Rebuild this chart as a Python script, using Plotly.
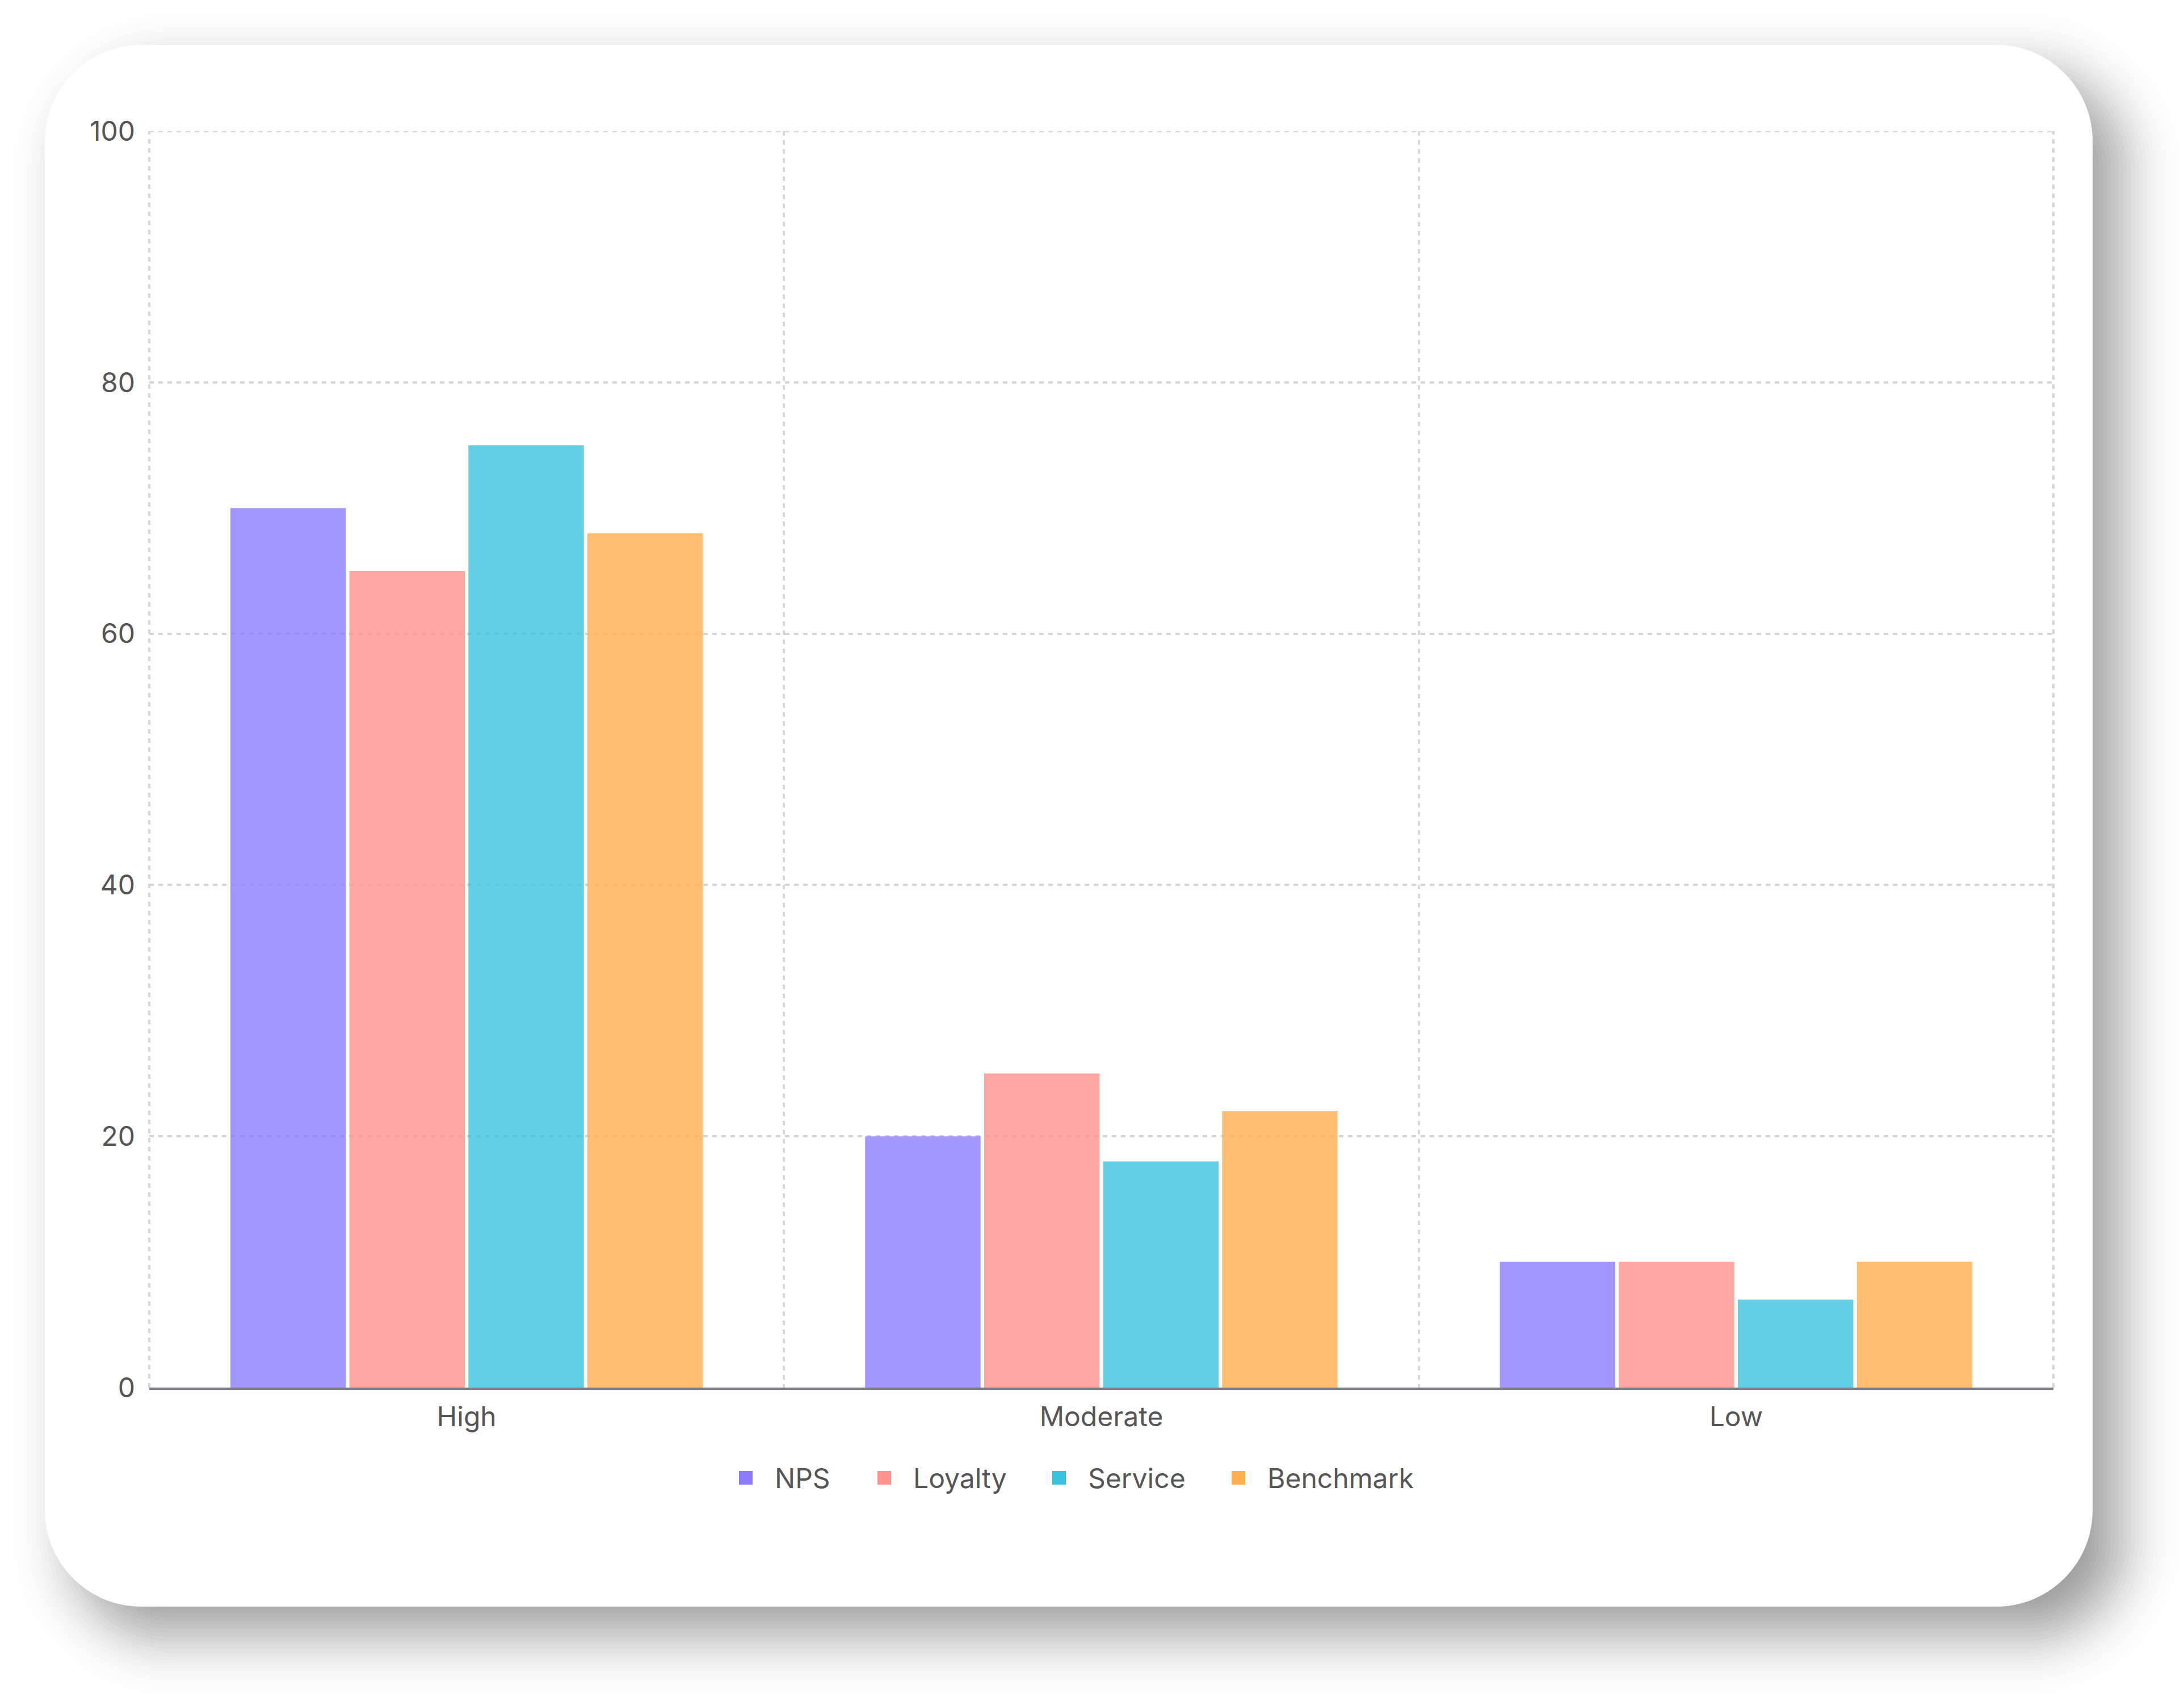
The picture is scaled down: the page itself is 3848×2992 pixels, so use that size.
import math
import plotly.graph_objects as go

# ---- data -----------------------------------------------------------------
categories = ["High", "Moderate", "Low"]
series_names = ["NPS", "Loyalty", "Service", "Benchmark"]
nps = [70, 20, 10]
loyalty = [65, 25, 10]
service = [75, 18, 7]
benchmark = [68, 22, 10]
y_ticks = [0, 20, 40, 60, 80, 100]

series_values = [nps, loyalty, service, benchmark]
series_colors = ["#8B7CFF", "#FF928C", "#3BC3DD", "#FFAF50"]

# ---- canvas geometry (pixels) ----------------------------------------------
W, H = 3848, 2992
PLOT_L, PLOT_R, PLOT_T, PLOT_B = 263, 3618, 231, 2445
CARD = (79, 79, 3687, 2831)
CARD_R = 170
FONT = "Inter, 'Open Sans', sans-serif"
TEXT_COLOR = "#555555"
GRID_COLOR = "#D6D6DB"
GRID_DASH = "8px,8px"
GRID_W = 4

PW = PLOT_R - PLOT_L
PH = PLOT_B - PLOT_T


def px(x):
    return (x - PLOT_L) / PW


def py(y):
    return (PLOT_B - y) / PH


def rounded_rect_path(x0, y0, x1, y1, r):
    r = max(1.0, min(r, (x1 - x0) / 2, (y1 - y0) / 2))
    k = 0.5523 * r
    pts = [
        f"M{px(x0 + r)},{py(y0)}",
        f"L{px(x1 - r)},{py(y0)}",
        f"C{px(x1 - r + k)},{py(y0)} {px(x1)},{py(y0 + r - k)} {px(x1)},{py(y0 + r)}",
        f"L{px(x1)},{py(y1 - r)}",
        f"C{px(x1)},{py(y1 - r + k)} {px(x1 - r + k)},{py(y1)} {px(x1 - r)},{py(y1)}",
        f"L{px(x0 + r)},{py(y1)}",
        f"C{px(x0 + r - k)},{py(y1)} {px(x0)},{py(y1 - r + k)} {px(x0)},{py(y1 - r)}",
        f"L{px(x0)},{py(y0 + r)}",
        f"C{px(x0)},{py(y0 + r - k)} {px(x0 + r - k)},{py(y0)} {px(x0 + r)},{py(y0)}",
        "Z",
    ]
    return " ".join(pts)


def phi(z):
    return 0.5 * (1 + math.erf(z / math.sqrt(2)))


shapes = []

# ---- soft drop shadow: stacked translucent rounded rects --------------------
SH_DX, SH_DY, SH_SIGMA, SH_ALPHA = 50, 50, 55, 0.38
n_layers = 48
expansions = [3 * SH_SIGMA - i * (6 * SH_SIGMA) / (n_layers - 1) for i in range(n_layers)]
prev_t = 1.0
for e in expansions:
    target_t = 1 - SH_ALPHA * phi(-e / SH_SIGMA)
    a = 1 - target_t / prev_t
    prev_t = target_t
    if a <= 0:
        continue
    x0, y0, x1, y1 = CARD
    shapes.append(dict(
        type="path", xref="paper", yref="paper", layer="below",
        path=rounded_rect_path(x0 + SH_DX - e, y0 + SH_DY - e,
                               x1 + SH_DX + e, y1 + SH_DY + e, CARD_R + e),
        fillcolor=f"rgba(0,0,0,{a:.5f})", line=dict(width=0),
    ))

# ---- white card ------------------------------------------------------------
shapes.append(dict(
    type="path", xref="paper", yref="paper", layer="below",
    path=rounded_rect_path(*CARD, CARD_R),
    fillcolor="#FFFFFF", line=dict(width=0),
))

# ---- dashed frame lines on the plot edges (top, left, right) ---------------
grid_line = dict(color=GRID_COLOR, width=GRID_W, dash=GRID_DASH)
shapes.append(dict(type="line", xref="paper", yref="y", layer="below",
                   x0=0, x1=1, y0=y_ticks[-1], y1=y_ticks[-1], line=grid_line))
for xe in (0, 1):
    shapes.append(dict(type="line", xref="paper", yref="paper", layer="below",
                       x0=xe, x1=xe, y0=0, y1=1, line=grid_line))

# ---- legend (square swatch + label) ----------------------------------------
legend_swatch_x = [1302, 1546, 1854, 2170]
LEGEND_Y = 2604
SW = 24
annotations = []
for name, color, lx in zip(series_names, series_colors, legend_swatch_x):
    shapes.append(dict(
        type="rect", xref="paper", yref="paper", layer="above",
        x0=px(lx), x1=px(lx + SW), y0=py(LEGEND_Y + SW / 2), y1=py(LEGEND_Y - SW / 2),
        fillcolor=color, line=dict(width=0),
    ))
    annotations.append(dict(
        xref="paper", yref="paper", x=px(lx + 61), y=py(LEGEND_Y),
        xanchor="left", yanchor="middle", text=name, showarrow=False,
        font=dict(family=FONT, size=48, color=TEXT_COLOR),
    ))

# ---- bars ------------------------------------------------------------------
fig = go.Figure()
for name, vals, color in zip(series_names, series_values, series_colors):
    fig.add_trace(go.Bar(
        x=categories, y=vals, name=name,
        marker=dict(color=color, line=dict(width=0)),
        opacity=0.8, showlegend=False, hoverinfo="x+y+name",
    ))

fig.update_layout(
    width=W, height=H,
    margin=dict(l=PLOT_L, r=W - PLOT_R, t=PLOT_T, b=H - PLOT_B, pad=0),
    paper_bgcolor="#FFFFFF",
    plot_bgcolor="rgba(0,0,0,0)",
    barmode="group", bargap=0.25, bargroupgap=0.03,
    showlegend=False,
    font=dict(family=FONT, size=48, color=TEXT_COLOR),
    shapes=shapes, annotations=annotations,
)

fig.update_xaxes(
    type="category", range=[-0.5, 2.5], tickson="boundaries",
    showgrid=True, gridcolor=GRID_COLOR, gridwidth=GRID_W, griddash=GRID_DASH,
    showline=True, linecolor="#80808C", linewidth=4,
    ticks="", ticklabelstandoff=6,
    tickfont=dict(family=FONT, size=48, color=TEXT_COLOR),
    zeroline=False, fixedrange=True,
)
fig.update_yaxes(
    range=[0, 100], tickvals=y_ticks,
    showgrid=True, gridcolor=GRID_COLOR, gridwidth=GRID_W, griddash=GRID_DASH,
    showline=False, zeroline=False,
    ticks="", ticklabelstandoff=24,
    tickfont=dict(family=FONT, size=48, color=TEXT_COLOR),
    fixedrange=True,
)

fig.write_html("out.html", config=dict(displayModeBar=False))
